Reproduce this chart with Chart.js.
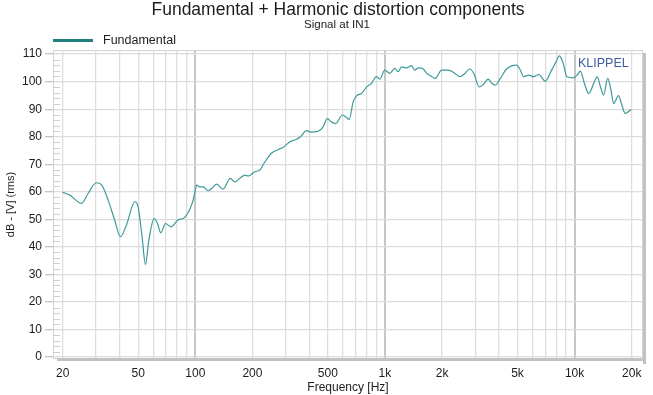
<!DOCTYPE html>
<html lang="en">
<head>
<meta charset="UTF-8">
<title>Fundamental + Harmonic distortion components</title>
<script src="https://cdn.jsdelivr.net/npm/chart.js"></script>
<style>
  html, body { margin: 0; padding: 0; background: #fff; }
  #chart { display: block; }
</style>
</head>
<body>
<canvas id="chart" width="653" height="395"></canvas>
<script>
// Fundamental
const freqHz = [
  20, 21.8, 25.1, 27.2, 30.1, 32, 34.7, 37.6, 40.3, 43.3,
  48, 49.9, 52.4, 54.6, 56.9, 60.6, 63.2, 65.8, 69.6, 74.3,
  81.8, 86.2, 93.4, 97.4, 99.6, 101.6, 105.6, 110, 116.8, 122,
  129.6, 140, 153, 161.6, 171.8, 182.4, 190, 206, 219, 230,
  252, 274, 290, 316, 334, 356, 386, 406, 444, 472,
  496, 522, 550, 596, 622, 648, 680, 710, 752, 802,
  850, 900, 940, 998, 1060, 1126, 1174, 1222, 1300, 1380,
  1438, 1498, 1592, 1660, 1744, 1838, 1992, 2160, 2340, 2480,
  2640, 2800, 2940, 3140, 3300, 3500, 3660, 3820, 4060, 4380,
  4940, 5150, 5380, 5720, 6080, 6480, 7000, 7560, 7980, 8300,
  8660, 9100, 9880, 10300, 10720, 11260, 11860, 12700, 13120, 13780,
  14220, 14940, 15560, 16060, 17040, 17740, 18460, 19200, 19860
];
const levelDb = [
  59.8, 58.8, 55.8, 59.4, 63.3, 62.6, 57.0, 49.7, 43.7, 47.9,
  56.4, 54.6, 43.7, 33.6, 42.5, 50.3, 48.5, 45.1, 48.5, 47.3,
  50.0, 50.3, 53.6, 57.0, 60.0, 62.4, 61.8, 61.8, 60.4, 61.2,
  62.8, 61.0, 64.9, 63.6, 64.9, 66.1, 65.7, 67.3, 67.9, 70.3,
  74.0, 75.4, 76.1, 78.2, 78.8, 79.8, 82.2, 81.7, 82.0, 83.6,
  86.6, 85.4, 84.8, 87.9, 87.2, 86.3, 92.7, 94.9, 95.7, 98.1,
  99.4, 101.8, 100.9, 104.2, 103.0, 104.8, 103.6, 105.4, 105.0, 105.8,
  104.2, 105.0, 104.6, 103.0, 102.1, 101.2, 104.2, 104.2, 103.0, 101.8,
  103.0, 104.6, 103.0, 98.1, 99.0, 100.9, 99.4, 98.7, 101.2, 104.6,
  106.0, 104.5, 101.8, 102.4, 101.8, 102.6, 100.2, 104.2, 107.2, 109.4,
  107.2, 101.8, 101.4, 102.4, 103.8, 99.4, 95.7, 99.9, 101.8, 97.5,
  95.1, 101.2, 96.9, 92.1, 94.9, 91.5, 88.5, 89.1, 89.9
];

const xLabelValues = [20, 50, 100, 200, 500, 1000, 2000, 5000, 10000, 20000];
const xLabelTexts = ['20', '50', '100', '200', '500', '1k', '2k', '5k', '10k', '20k'];
const yTickValues = [0, 10, 20, 30, 40, 50, 60, 70, 80, 90, 100, 110];

const FONT = '"Liberation Sans", Arial, sans-serif';
const TEXT = '#1c1c1c';

// vertical grid: 20..90, 100..900, 1k..9k, 10k, 20k
const xGridValues = [];
[10, 100, 1000, 10000].forEach(d => {
  for (let m = 1; m <= 9; m++) {
    const v = m * d;
    if (v >= 20 && v <= 20000) xGridValues.push(v);
  }
});

const decor = {
  id: 'decor',
  beforeDraw(chart) {
    const c = chart.ctx;
    c.save();
    c.fillStyle = '#fff';
    c.fillRect(0, 0, chart.width, chart.height);
    c.restore();
  },
  afterDraw(chart) {
    const c = chart.ctx, a = chart.chartArea, ys = chart.scales.y;
    c.save();
    // plot frame + shadow
    c.strokeStyle = '#d4d4d4';
    c.lineWidth = 1;
    c.strokeRect(a.left + 0.5, a.top + 0.5, a.right - a.left - 1, a.bottom - a.top - 1);
    c.fillStyle = '#c2c2c2';
    c.fillRect(a.left + 4, a.bottom - 1, a.right - a.left - 1, 3);
    c.fillRect(a.right, a.top + 3, 3, a.bottom - a.top + 2);

    // minor ticks on the inside of the y axis
    c.strokeStyle = '#cfcfcf';
    c.beginPath();
    for (let v = 2; v < 110; v += 2) {
      if (v % 10 === 0) continue;
      const py = Math.round(ys.getPixelForValue(v)) + 0.5;
      c.moveTo(a.left, py);
      c.lineTo(a.left + 7, py);
    }
    c.stroke();

    // titles
    c.fillStyle = TEXT;
    c.textAlign = 'center';
    c.textBaseline = 'alphabetic';
    c.font = '17.5px ' + FONT;
    c.fillText('Fundamental + Harmonic distortion components', 338, 15);
    c.font = '11.5px ' + FONT;
    c.fillText('Signal at IN1', 337, 27.5);

    // legend
    const ds = chart.data.datasets[0];
    c.strokeStyle = '#1f8080';
    c.lineWidth = 3;
    c.beginPath();
    c.moveTo(53, 40.5);
    c.lineTo(93, 40.5);
    c.stroke();
    c.textAlign = 'left';
    c.font = '12.5px ' + FONT;
    c.fillText(ds.label, 103, 44);

    // watermark
    c.fillStyle = '#3b5ca4';
    c.font = '12.5px ' + FONT;
    c.fillText('KLIPPEL', 578, 67);
    c.restore();
  }
};

new Chart(document.getElementById('chart'), {
  type: 'line',
  data: {
    datasets: [{
      label: 'Fundamental',
      data: freqHz.map((f, i) => ({ x: f, y: levelDb[i] })),
      borderColor: '#3e9a9a',
      borderWidth: 1.2,
      pointRadius: 0,
      cubicInterpolationMode: 'monotone',
      fill: false
    }]
  },
  options: {
    responsive: false,
    animation: false,
    layout: { padding: { top: 50, right: 10, left: 0, bottom: 0 } },
    plugins: {
      legend: { display: false },
      title: { display: false },
      tooltip: { enabled: false }
    },
    scales: {
      x: {
        type: 'logarithmic',
        min: 17.77,
        max: 22940,
        afterBuildTicks: s => { s.ticks = xGridValues.map(v => ({ value: v })); },
        afterFit: s => { s.height = 36; },
        border: { display: false },
        grid: {
          drawTicks: false,
          color: ctx => [100, 1000, 10000].includes(ctx.tick.value) ? '#c6c6c6' : '#dedede',
          lineWidth: ctx => [100, 1000, 10000].includes(ctx.tick.value) ? 2 : 1.3
        },
        ticks: {
          autoSkip: false,
          maxRotation: 0,
          padding: 7,
          color: TEXT,
          font: { family: FONT, size: 12 },
          callback: v => {
            const i = xLabelValues.indexOf(v);
            return i >= 0 ? xLabelTexts[i] : '';
          }
        },
        title: {
          display: true,
          text: 'Frequency [Hz]',
          color: TEXT,
          font: { family: FONT, size: 12 },
          padding: { top: 0, bottom: 0 }
        }
      },
      y: {
        min: -0.7,
        max: 111.5,
        afterBuildTicks: s => { s.ticks = yTickValues.map(v => ({ value: v })); },
        afterFit: s => { s.width = 53; },
        border: { display: false },
        grid: {
          color: '#dcdcdc',
          lineWidth: 1.3,
          tickLength: 8,
          tickColor: '#c4c4c4'
        },
        ticks: {
          autoSkip: false,
          padding: 3,
          color: TEXT,
          font: { family: FONT, size: 12 }
        },
        title: {
          display: true,
          text: 'dB - [V] (rms)',
          color: TEXT,
          font: { family: FONT, size: 11 },
          padding: { top: 4, bottom: 4 }
        }
      }
    }
  },
  plugins: [decor]
});
</script>
</body>
</html>
